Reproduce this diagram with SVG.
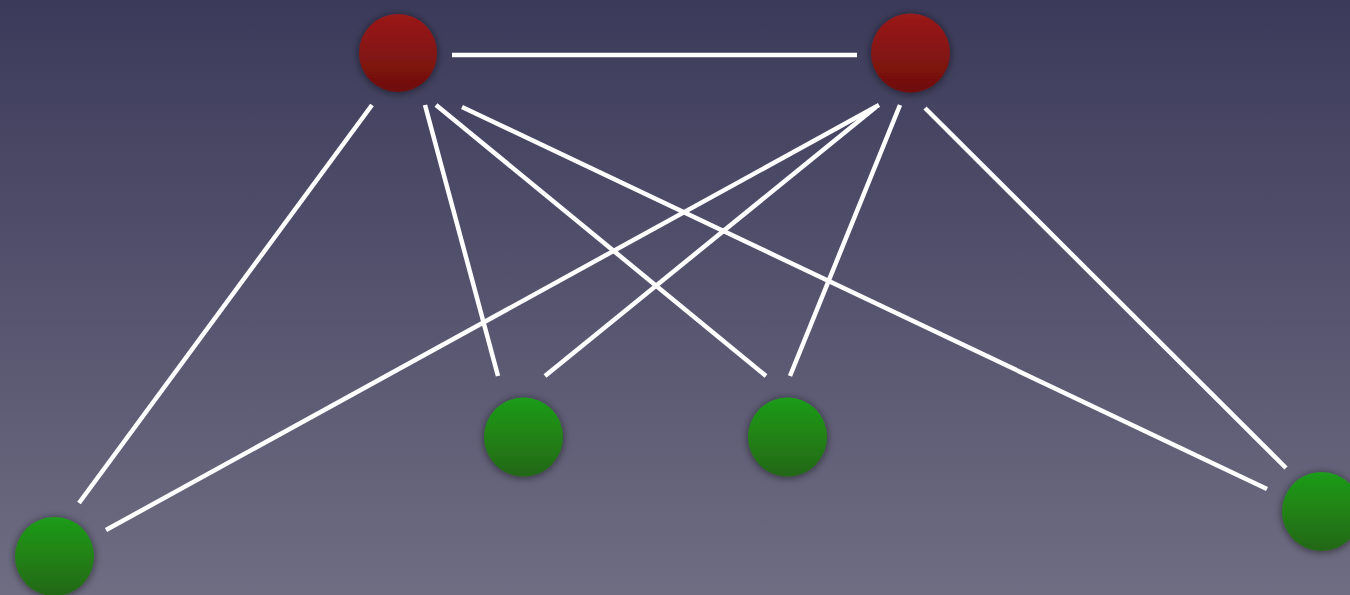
<svg xmlns="http://www.w3.org/2000/svg" width="1350" height="595" viewBox="0 0 1350 595">
  <defs>
    <linearGradient id="bg" x1="0" y1="0" x2="0" y2="1">
      <stop offset="0" stop-color="#3b3a5a"/>
      <stop offset="1" stop-color="#6f6d82"/>
    </linearGradient>
    <linearGradient id="red" x1="0" y1="0" x2="0" y2="1">
      <stop offset="0" stop-color="#9a1a1a"/>
      <stop offset="1" stop-color="#6f0f0c"/>
    </linearGradient>
    <linearGradient id="green" x1="0" y1="0" x2="0" y2="1">
      <stop offset="0" stop-color="#1e9c1a"/>
      <stop offset="1" stop-color="#236712"/>
    </linearGradient>
    <filter id="glow" x="-40%" y="-40%" width="180%" height="180%">
      <feGaussianBlur in="SourceAlpha" stdDeviation="4"/>
      <feComponentTransfer><feFuncA type="linear" slope="0.55"/></feComponentTransfer>
      <feOffset dx="0" dy="1" result="shadow"/>
      <feMerge><feMergeNode in="shadow"/><feMergeNode in="SourceGraphic"/></feMerge>
    </filter>
  </defs>
  <style>
    .edge { stroke: #ffffff; stroke-width: 4.5; stroke-linecap: butt; fill: none; }
    .red { fill: url(#red); filter: url(#glow); }
    .green { fill: url(#green); filter: url(#glow); }
  </style>

  <rect x="0" y="0" width="1350" height="595" fill="url(#bg)"/>

  <!-- connectors -->
  <g id="connectors">
    <line class="edge" x1="452" y1="55" x2="857" y2="55"/>
    <line class="edge" x1="372" y1="105" x2="79" y2="503"/>
    <line class="edge" x1="425" y1="105" x2="498" y2="376"/>
    <line class="edge" x1="436" y1="105" x2="766" y2="376"/>
    <line class="edge" x1="462" y1="107" x2="1267" y2="489"/>
    <line class="edge" x1="879" y1="105" x2="106" y2="530"/>
    <line class="edge" x1="876" y1="107" x2="545" y2="376"/>
    <line class="edge" x1="900" y1="105" x2="790" y2="376"/>
    <line class="edge" x1="925" y1="108" x2="1286" y2="468"/>
  </g>

  <!-- nodes -->
  <g id="node-top-left"><circle class="red" cx="398" cy="53" r="39"/></g>
  <g id="node-top-right"><circle class="red" cx="910.5" cy="53" r="39.5"/></g>
  <g id="node-bottom-left"><circle class="green" cx="54.5" cy="556.5" r="39.5"/></g>
  <g id="node-mid-left"><circle class="green" cx="523.5" cy="437" r="39.5"/></g>
  <g id="node-mid-right"><circle class="green" cx="787.5" cy="437" r="39.5"/></g>
  <g id="node-right"><circle class="green" cx="1321.5" cy="511.5" r="39.5"/></g>
</svg>
